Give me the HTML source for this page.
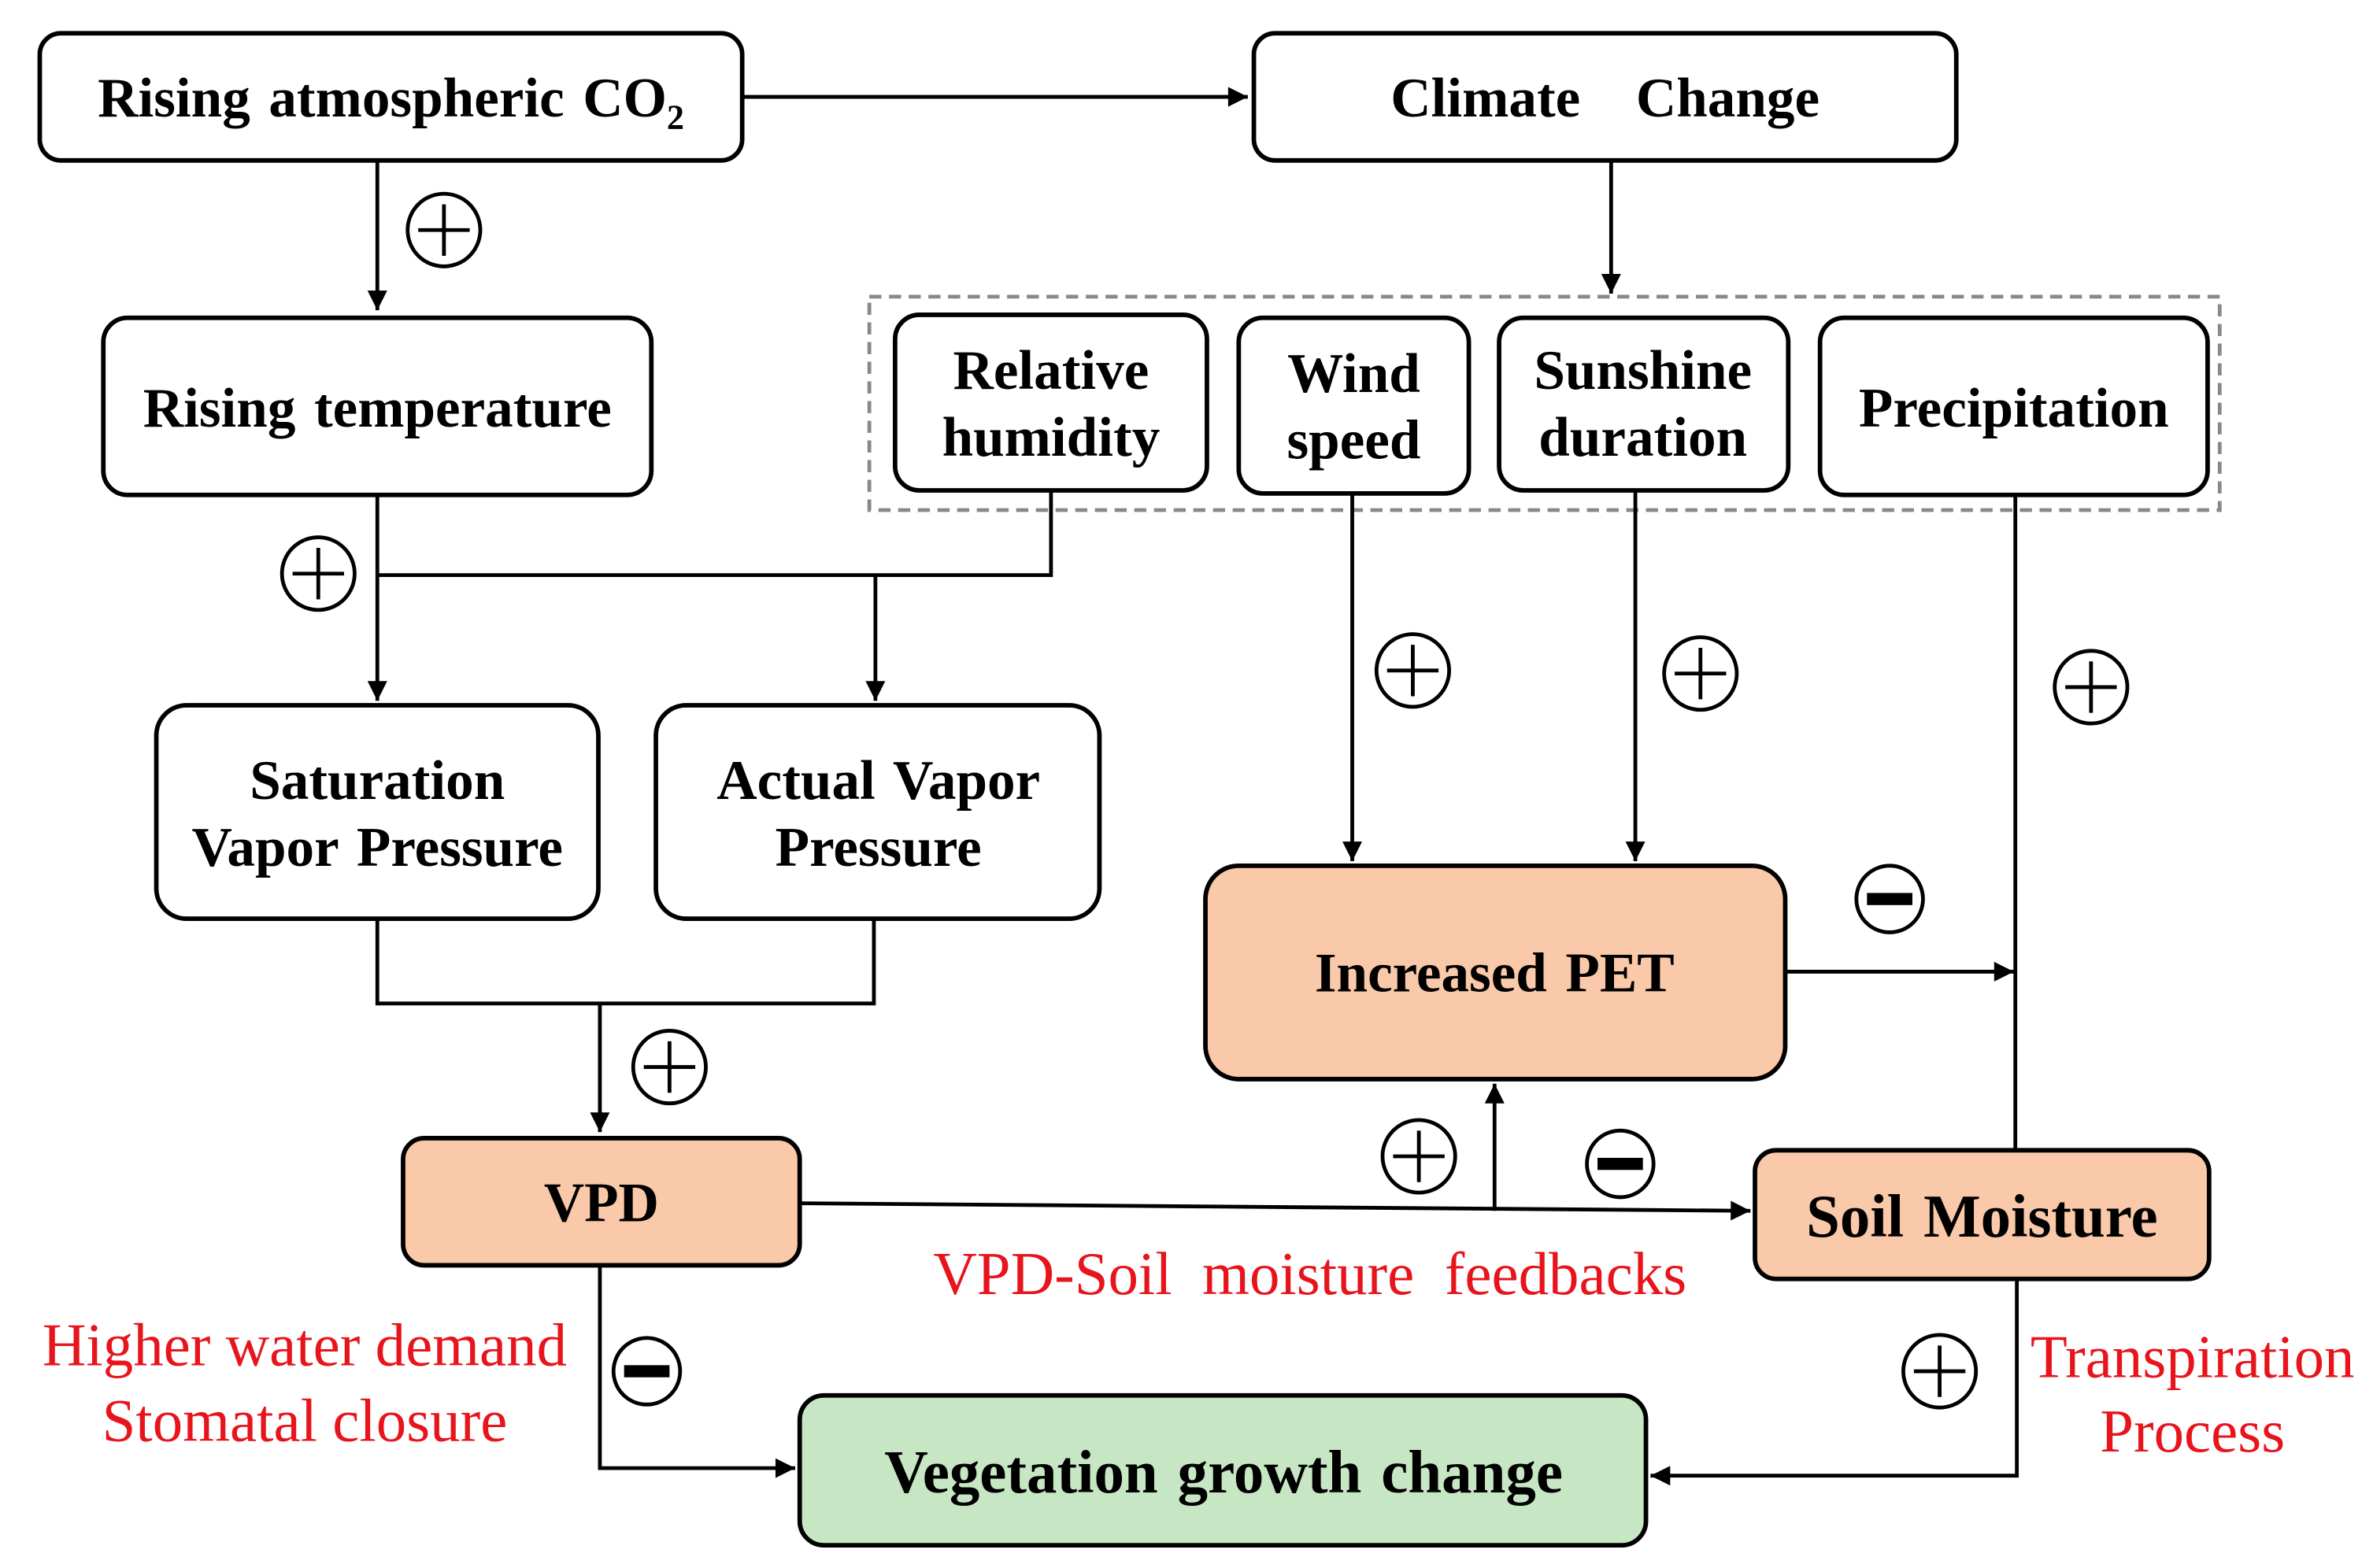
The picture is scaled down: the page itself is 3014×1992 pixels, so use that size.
<!DOCTYPE html>
<html><head><meta charset="utf-8"><style>html,body{margin:0;padding:0;background:#fff}svg{display:block}</style></head>
<body>
<svg width="3014" height="1992" viewBox="0 0 1567 1036" xmlns="http://www.w3.org/2000/svg">
<defs>
<marker id="ah" viewBox="0 0 10 10" refX="10" refY="5" markerWidth="15" markerHeight="13" orient="auto-start-reverse" markerUnits="userSpaceOnUse">
<path d="M0,0 L10,5 L0,10 z" fill="#000"/></marker>
</defs>
<style>
.b{fill:#fff;stroke:#000;stroke-width:3}
.o{fill:#f9c9a9;stroke:#000;stroke-width:3}
.g{fill:#c7e6c4;stroke:#000;stroke-width:3}
.l{fill:none;stroke:#000;stroke-width:2.5}
.t{font-family:"Liberation Serif",serif;font-weight:bold;font-size:37px;text-anchor:middle;word-spacing:3px}
.r{font-family:"Liberation Serif",serif;font-size:40px;fill:#e8141c;text-anchor:middle}
.c{fill:#fff;stroke:#000;stroke-width:2.5}
</style>
<rect x="574" y="196" width="892" height="141" fill="none" stroke="#888" stroke-width="2.5" stroke-dasharray="8,5"/>
<line class="l" x1="490" y1="64" x2="824" y2="64" marker-end="url(#ah)"/>
<line class="l" x1="249" y1="106" x2="249" y2="205" marker-end="url(#ah)"/>
<line class="l" x1="1064" y1="106" x2="1064" y2="194" marker-end="url(#ah)"/>
<line class="l" x1="249" y1="327" x2="249" y2="463" marker-end="url(#ah)"/>
<polyline class="l" points="249,380 694,380 694,324"/>
<line class="l" x1="578" y1="380" x2="578" y2="463" marker-end="url(#ah)"/>
<polyline class="l" points="249,607 249,663 577,663 577,607"/>
<line class="l" x1="396" y1="663" x2="396" y2="748" marker-end="url(#ah)"/>
<line class="l" x1="893" y1="324" x2="893" y2="569" marker-end="url(#ah)"/>
<line class="l" x1="1080" y1="324" x2="1080" y2="569" marker-end="url(#ah)"/>
<line class="l" x1="1331" y1="327" x2="1331" y2="760"/>
<line class="l" x1="1179" y1="642" x2="1330" y2="642" marker-end="url(#ah)"/>
<line class="l" x1="528" y1="795" x2="1156" y2="800" marker-end="url(#ah)"/>
<line class="l" x1="987" y1="800" x2="987" y2="716" marker-end="url(#ah)"/>
<polyline class="l" points="396,836 396,970 525,970" marker-end="url(#ah)"/>
<polyline class="l" points="1332,845 1332,975 1090,975" marker-end="url(#ah)"/>
<rect class="b" x="26" y="22" width="464" height="84" rx="14"/>
<text class="t" x="258" y="77">Rising atmospheric CO<tspan font-size="23" dy="8">2</tspan></text>
<rect class="b" x="828" y="22" width="464" height="84" rx="14"/>
<text class="t" x="1060" y="77" xml:space="preserve">Climate   Change</text>
<rect class="b" x="68" y="210" width="362" height="117" rx="16"/>
<text class="t" x="249" y="282">Rising temperature</text>
<rect class="b" x="591" y="208" width="206" height="116" rx="16"/>
<text class="t" x="694" y="257">Relative</text><text class="t" x="694" y="301">humidity</text>
<rect class="b" x="818" y="210" width="152" height="116" rx="16"/>
<text class="t" x="894" y="259">Wind</text><text class="t" x="894" y="303">speed</text>
<rect class="b" x="990" y="210" width="191" height="114" rx="16"/>
<text class="t" x="1085" y="257">Sunshine</text><text class="t" x="1085" y="301">duration</text>
<rect class="b" x="1202" y="210" width="256" height="117" rx="16"/>
<text class="t" x="1330" y="282">Precipitation</text>
<rect class="b" x="103" y="466" width="292" height="141" rx="20"/>
<text class="t" x="249" y="528">Saturation</text><text class="t" x="249" y="572">Vapor Pressure</text>
<rect class="b" x="433" y="466" width="293" height="141" rx="20"/>
<text class="t" x="580" y="528">Actual Vapor</text><text class="t" x="580" y="572">Pressure</text>
<rect class="o" x="796" y="572" width="383" height="141" rx="22"/>
<text class="t" x="987" y="655">Increased PET</text>
<rect class="o" x="266" y="752" width="262" height="84" rx="14"/>
<text class="t" x="397" y="807">VPD</text>
<rect class="o" x="1159" y="760" width="300" height="85" rx="14"/>
<text class="t" x="1309" y="817" style="font-size:40px">Soil Moisture</text>
<rect class="g" x="528" y="922" width="559" height="99" rx="16"/>
<text class="t" x="808" y="986" style="font-size:40px">Vegetation growth change</text>
<g>
<circle class="c" cx="293" cy="152" r="24"/><path class="l" d="M276,152h34M293,135v34"/>
<circle class="c" cx="210" cy="379" r="24"/><path class="l" d="M193,379h34M210,362v34"/>
<circle class="c" cx="442" cy="705" r="24"/><path class="l" d="M425,705h34M442,688v34"/>
<circle class="c" cx="933" cy="443" r="24"/><path class="l" d="M916,443h34M933,426v34"/>
<circle class="c" cx="1123" cy="445" r="24"/><path class="l" d="M1106,445h34M1123,428v34"/>
<circle class="c" cx="1381" cy="454" r="24"/><path class="l" d="M1364,454h34M1381,437v34"/>
<circle class="c" cx="937" cy="764" r="24"/><path class="l" d="M920,764h34M937,747v34"/>
<circle class="c" cx="1281" cy="906" r="24"/><path class="l" d="M1264,906h34M1281,889v34"/>
<circle class="c" cx="1248" cy="594" r="22"/><rect x="1233" y="590" width="30" height="8" fill="#000"/>
<circle class="c" cx="1070" cy="769" r="22"/><rect x="1055" y="765" width="30" height="8" fill="#000"/>
<circle class="c" cx="427" cy="906" r="22"/><rect x="412" y="902" width="30" height="8" fill="#000"/>
</g>
<text class="r" x="865" y="855" xml:space="preserve">VPD-Soil  moisture  feedbacks</text>
<text class="r" x="201" y="902">Higher water demand</text>
<text class="r" x="201" y="952">Stomatal closure</text>
<text class="r" x="1448" y="910">Transpiration</text>
<text class="r" x="1448" y="959">Process</text>
</svg>
</body></html>
